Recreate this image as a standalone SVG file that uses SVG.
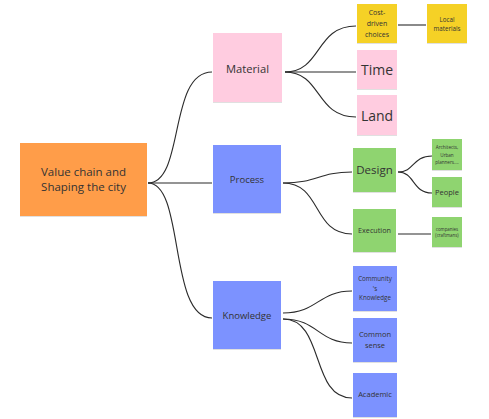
<svg xmlns="http://www.w3.org/2000/svg" width="489" height="419" viewBox="0 0 489 419">
  <defs>
    <filter id="sh" x="-10%" y="-10%" width="130%" height="130%">
      <feDropShadow dx="0" dy="1" stdDeviation="0.6" flood-color="#000" flood-opacity="0.12"/>
    </filter>
  </defs>
  <style>
    .n rect { filter: url(#sh); }
    .n text { font-family: "Open Sans", "Noto Sans", sans-serif; fill: #333333; text-anchor: middle; dominant-baseline: central; }
    .orange { fill: #FF9D48; }
    .pink { fill: #FFCCE0; }
    .blue { fill: #7B92FF; }
    .green { fill: #8FD46F; }
    .yellow { fill: #F5D128; }
    .c path { fill: none; stroke: #2b2b2b; stroke-width: 1.1; }
  </style>

  <rect width="489" height="419" fill="#ffffff"/>

  <!-- connectors -->
  <g class="c" id="connectors">
    <path d="M148,183 C185,183 168,72 212,72"/>
    <path d="M148,183 L212,183"/>
    <path d="M148,183 C185,183 168,318 212,318"/>

    <path d="M285,72 C322,72 315,26 356,26"/>
    <path d="M285,72 L356,72"/>
    <path d="M285,72 C322,72 315,117 356,117"/>
    <path d="M398,25 L426,25"/>

    <path d="M283,183 C318,183 318,172 352,172"/>
    <path d="M283,183 C322,183 312,234 352,234"/>
    <path d="M398,172 C415,172 412,156 432,156"/>
    <path d="M398,172 C415,172 412,193 432,193"/>
    <path d="M398,234 L431,234"/>

    <path d="M283,313 C318,313 318,291 352,291"/>
    <path d="M283,319 C318,319 318,343 352,343"/>
    <path d="M283,319 C325,319 310,398 352,398"/>
  </g>

  <!-- root -->
  <g class="n" id="root">
    <rect class="orange" x="20" y="143" width="127" height="73"/>
    <text x="83.5" y="171" font-size="11.5">Value chain and</text>
    <text x="83.5" y="186" font-size="11.5">Shaping the city</text>
  </g>

  <!-- first level -->
  <g class="n" id="material">
    <rect class="pink" x="213" y="33" width="69" height="69"/>
    <text x="247.5" y="68" font-size="11.2">Material</text>
  </g>
  <g class="n" id="process">
    <rect class="blue" x="213" y="145" width="68" height="68"/>
    <text x="247" y="179" font-size="9.5">Process</text>
  </g>
  <g class="n" id="knowledge">
    <rect class="blue" x="213" y="281" width="68" height="68"/>
    <text x="247" y="315" font-size="9.5">Knowledge</text>
  </g>

  <!-- material children -->
  <g class="n" id="cost">
    <rect class="yellow" x="357" y="4" width="40" height="39"/>
    <text x="377" y="12.5" font-size="7">Cost-</text>
    <text x="377" y="23.5" font-size="7">driven</text>
    <text x="377" y="34" font-size="7">choices</text>
  </g>
  <g class="n" id="local">
    <rect class="yellow" x="427" y="4" width="40" height="39"/>
    <text x="447" y="19" font-size="6.2">Local</text>
    <text x="447" y="28.5" font-size="6.2">materials</text>
  </g>
  <g class="n" id="time">
    <rect class="pink" x="357" y="50" width="40" height="39"/>
    <text x="377" y="69" font-size="14">Time</text>
  </g>
  <g class="n" id="land">
    <rect class="pink" x="357" y="95" width="40" height="40"/>
    <text x="377" y="115" font-size="14">Land</text>
  </g>

  <!-- process children -->
  <g class="n" id="design">
    <rect class="green" x="353" y="148" width="43" height="44"/>
    <text x="374.5" y="169" font-size="11.5">Design</text>
  </g>
  <g class="n" id="execution">
    <rect class="green" x="353" y="209" width="43" height="43"/>
    <text x="374.5" y="230" font-size="7.2">Execution</text>
  </g>
  <g class="n" id="architects">
    <rect class="green" x="432" y="139" width="30" height="31"/>
    <text x="447" y="147" font-size="4.6">Architects,</text>
    <text x="447" y="154.5" font-size="4.6">Urban</text>
    <text x="447" y="162" font-size="4.6">planners....</text>
  </g>
  <g class="n" id="people">
    <rect class="green" x="432" y="177" width="30" height="30"/>
    <text x="447" y="192" font-size="7.5">People</text>
  </g>
  <g class="n" id="companies">
    <rect class="green" x="432" y="217" width="30" height="30"/>
    <text x="447" y="228.5" font-size="4.4">companies</text>
    <text x="447" y="234.5" font-size="4.4">(craftmans)</text>
  </g>

  <!-- knowledge children -->
  <g class="n" id="community">
    <rect class="blue" x="353" y="266" width="44" height="45"/>
    <text x="375" y="278.5" font-size="6.2">Community</text>
    <text x="375" y="288" font-size="6.2">'s</text>
    <text x="375" y="297" font-size="6.2">Knowledge</text>
  </g>
  <g class="n" id="common">
    <rect class="blue" x="353" y="318" width="44" height="44"/>
    <text x="375" y="334" font-size="7.5">Common</text>
    <text x="375" y="345" font-size="7.5">sense</text>
  </g>
  <g class="n" id="academic">
    <rect class="blue" x="353" y="373" width="44" height="44"/>
    <text x="375" y="394" font-size="7.5">Academic</text>
  </g>
</svg>
